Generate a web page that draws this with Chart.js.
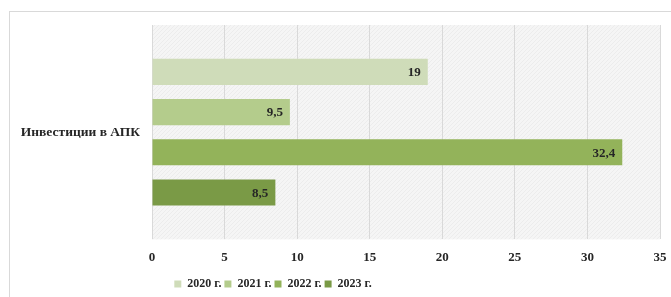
<!DOCTYPE html>
<html lang="ru">
<head>
  <meta charset="UTF-8" />
  <title>Инвестиции в АПК</title>
  <style>
    body { margin: 0; background: #fff; }
    .frame {
      position: absolute; left: 9px; top: 11px; width: 700px; height: 300px;
      border: 1px solid #d9d9d9; box-sizing: border-box;
    }
    .wrap { position: absolute; left: 0; top: 0; width: 671px; height: 297px; }
  </style>
  <script src="https://cdn.jsdelivr.net/npm/chart.js"></script>
</head>
<body>
  <div class="frame"></div>
  <div class="wrap"><canvas id="chart"></canvas></div>
  <script>
    // данные с диаграммы
    const categories = ['Инвестиции в АПК'];
    const years = ['2020 г.', '2021 г.', '2022 г.', '2023 г.'];
    const values = [19, 9.5, 32.4, 8.5];
    const colors = ['#cfdcb9', '#b4cc8c', '#93b35a', '#7a9a46'];
    const xTicks = [0, 5, 10, 15, 20, 25, 30, 35];

    const serif = '"Liberation Serif", "Times New Roman", serif';

    // штриховка фона области построения
    function makePattern() {
      const c = document.createElement('canvas');
      c.width = 4; c.height = 4;
      const g = c.getContext('2d');
      g.fillStyle = '#f5f5f5';
      g.fillRect(0, 0, 4, 4);
      g.strokeStyle = '#ececec';
      g.lineWidth = 1;
      g.beginPath(); g.moveTo(0, 4); g.lineTo(4, 0); g.stroke();
      return g.createPattern(c, 'repeat');
    }

    const plotBg = {
      id: 'plotBg',
      beforeDraw(chart) {
        const a = chart.chartArea, ctx = chart.ctx, x = chart.scales.x;
        const l = x.getPixelForValue(0), r = x.getPixelForValue(35);
        ctx.save();
        ctx.fillStyle = makePattern();
        ctx.fillRect(l, a.top, r - l, a.bottom - a.top);
        ctx.restore();
      }
    };

    const valueLabels = {
      id: 'valueLabels',
      afterDatasetsDraw(chart) {
        const ctx = chart.ctx;
        ctx.save();
        ctx.font = 'bold 13px ' + serif;
        ctx.fillStyle = '#262626';
        ctx.textAlign = 'right';
        ctx.textBaseline = 'middle';
        chart.data.datasets.forEach((ds, i) => {
          chart.getDatasetMeta(i).data.forEach((bar, j) => {
            ctx.fillText(String(ds.data[j]).replace('.', ','), bar.x - 7, bar.y + 1);
          });
        });
        ctx.restore();
      }
    };

    const legendShift = {
      id: 'legendShift',
      afterLayout(chart) {
        const L = chart.legend;
        const shift = 273 - (L.left + L.right) / 2;
        L.left += shift; L.right += shift;
      }
    };

    new Chart(document.getElementById('chart'), {
      type: 'bar',
      data: {
        labels: categories,
        datasets: years.map((y, i) => ({
          label: y,
          data: [values[i]],
          backgroundColor: colors[i],
          borderWidth: 0,
          categoryPercentage: 0.75,
          barPercentage: 0.65
        }))
      },
      options: {
        indexAxis: 'y',
        responsive: true,
        maintainAspectRatio: false,
        animation: false,
        layout: { autoPadding: false, padding: { left: 12, right: 11, top: 25, bottom: -3 } },
        scales: {
          x: {
            min: 0, max: 35,
            afterBuildTicks: s => { s.ticks = xTicks.map(v => ({ value: v })); },
            // подпись "35" не должна сжимать область построения
            afterFit: s => { s.paddingLeft = 0; s.paddingRight = 0; },
            grid: { color: '#d9d9d9', drawTicks: false },
            border: { display: false },
            ticks: { color: '#262626', padding: 10, font: { family: serif, size: 13, weight: 'bold' } }
          },
          y: {
            grid: { display: false },
            border: { display: false },
            afterFit: s => { s.width = 140; },
            ticks: { color: '#262626', padding: 4, font: { family: serif, size: 13.5, weight: 'bold' } }
          }
        },
        plugins: {
          tooltip: { enabled: false },
          legend: {
            position: 'bottom',
            labels: {
              boxWidth: 7, boxHeight: 7, padding: 3,
              color: '#262626',
              font: { family: serif, size: 12, weight: 'bold' }
            }
          }
        }
      },
      plugins: [plotBg, valueLabels, legendShift]
    });
  </script>
</body>
</html>
